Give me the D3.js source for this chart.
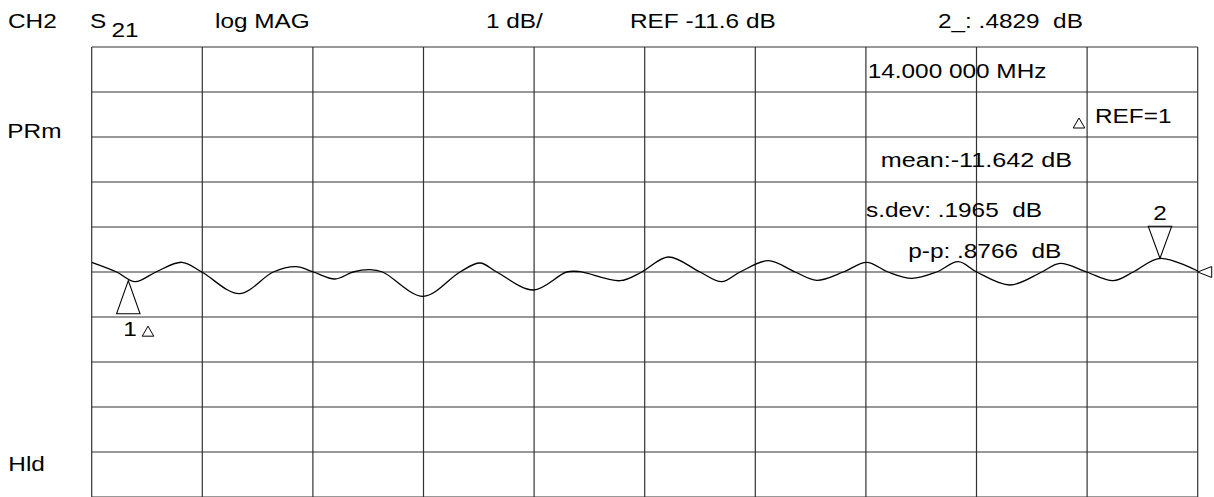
<!DOCTYPE html>
<html><head><meta charset="utf-8">
<script src="https://cdn.jsdelivr.net/npm/d3@7"></script>
<style>
html,body{margin:0;padding:0;background:#fff;}
svg{display:block;}
text{font-family:"Liberation Sans",Arial,sans-serif;font-size:21px;fill:#000;white-space:pre;}
</style></head>
<body>
<svg id="c" width="1214" height="497"></svg>
<script>
// ---- data ----
const refLevel = -11.6;          // dB at reference (centre) line
const scalePerDiv = 1;           // dB per division
const xDivisions = 10;
const yDivisions = 10;
// sweep position in divisions (0..10) and measured S21 in dB
const sweepPos = [0,0.226,0.392,0.581,0.814,0.995,1.335,1.642,1.847,2.004,2.2,2.363,2.516,2.63,2.998,3.33,3.511,3.662,3.993,4.295,4.415,4.777,4.973,5.213,5.5,5.696,5.862,6.118,6.359,6.555,6.796,7.007,7.2,7.414,7.64,7.835,8.002,8.303,8.59,8.755,8.996,9.237,9.418,9.659,10];
const s21dB = [-11.384,-11.60,-11.816,-11.60,-11.384,-11.60,-12.082,-11.60,-11.482,-11.60,-11.756,-11.60,-11.549,-11.60,-12.14,-11.60,-11.40,-11.60,-12.0,-11.60,-11.593,-11.793,-11.60,-11.267,-11.60,-11.816,-11.60,-11.349,-11.60,-11.784,-11.60,-11.384,-11.60,-11.74,-11.60,-11.371,-11.60,-11.889,-11.60,-11.407,-11.60,-11.793,-11.60,-11.296,-11.578];
const markerPos = [0.331, 9.659];
const markerDB = [-11.793, -11.296];
const markerNames = ["1", "2"];
const headerTexts = ["CH2", "log MAG", "1 dB/", "REF -11.6 dB", "2_: .4829  dB"];
const headerX = [8, 215, 486, 630, 938];
const readoutTexts = ["14.000 000 MHz", "REF=1", "mean:-11.642 dB", "s.dev: .1965  dB", "p-p: .8766  dB"];
const sideTexts = ["PRm", "Hld"];

// ---- layout ----
const svg = d3.select("#c");
const x = d3.scaleLinear().domain([0, xDivisions]).range([91.7, 1197.7]);
const y = d3.scaleLinear().domain([refLevel - 5*scalePerDiv, refLevel + 5*scalePerDiv]).range([497, 47]);
const SX = 1.16;
function txt(s, px, py, anchor, sx) {
  svg.append("text").attr("transform", `translate(${px},${py}) scale(${sx || SX},1)`)
    .attr("text-anchor", anchor || "start").attr("xml:space", "preserve").text(s);
}

// grid
const g = svg.append("g").attr("stroke", "#333").attr("stroke-width", 1.2).attr("fill", "none");
g.selectAll("line.h").data(d3.range(0, yDivisions + 1)).join("line")
  .attr("x1", x(0)).attr("x2", x(xDivisions))
  .attr("y1", d => y(refLevel - 5 + d)).attr("y2", d => y(refLevel - 5 + d));
g.selectAll("line.v").data(d3.range(0, xDivisions + 1)).join("line")
  .attr("x1", d => x(d)).attr("x2", d => x(d))
  .attr("y1", y.range()[1]).attr("y2", y.range()[0]);

// trace
const pts = sweepPos.map((p, i) => [p, s21dB[i]]);
svg.append("path").datum(pts)
  .attr("d", d3.line().x(d => x(d[0])).y(d => y(d[1])).curve(d3.curveCatmullRom.alpha(0.5)))
  .attr("fill", "none").attr("stroke", "#000").attr("stroke-width", 1.3);

// reference pointer on right edge
const ry = y(refLevel), rx = x(xDivisions);
svg.append("path").attr("d", `M${rx},${ry} L${rx+14},${ry-5.5} L${rx+14},${ry+5.5} Z`)
  .attr("fill", "#fff").attr("stroke", "#000").attr("stroke-width", 1);

// markers
const m1x = x(markerPos[0]), m1y = y(markerDB[0]);
svg.append("path").attr("d", `M${m1x},${m1y} L${m1x-11.7},${m1y+33} L${m1x+11.7},${m1y+33} Z`)
  .attr("fill", "none").attr("stroke", "#000").attr("stroke-width", 1.1);
const m2x = x(markerPos[1]), m2y = y(markerDB[1]);
svg.append("path").attr("d", `M${m2x},${m2y} L${m2x-11.7},${m2y-32} L${m2x+11.7},${m2y-32} Z`)
  .attr("fill", "none").attr("stroke", "#000").attr("stroke-width", 1.1);
txt(markerNames[0], m1x - 5, m1y + 55.5);
txt(markerNames[1], m2x, m2y - 38.5, "middle");
function delta(cx, by) {
  svg.append("path").attr("d", `M${cx},${by-10} L${cx-5.8},${by} L${cx+5.8},${by} Z`)
    .attr("fill", "none").attr("stroke", "#000").attr("stroke-width", 1);
}
delta(148, m1y + 55.5);

// header
txt(headerTexts[0], headerX[0], 28.3);
txt("S", 90, 28.3);
txt("21", 111.5, 36.7);
for (let i = 1; i < headerTexts.length; i++) txt(headerTexts[i], headerX[i], 28.3);

// side
txt(sideTexts[0], 7.3, 138.3);
txt(sideTexts[1], 8.3, 470.7);

// readouts
txt(readoutTexts[0], 867.7, 78.3);
delta(1079, 128);
txt(readoutTexts[1], 1095, 123.3);
txt(readoutTexts[2], 880.7, 167, "start", 1.2);
txt(readoutTexts[3], 866, 217.3);
txt(readoutTexts[4], 908.3, 258.3);
</script>
</body></html>
